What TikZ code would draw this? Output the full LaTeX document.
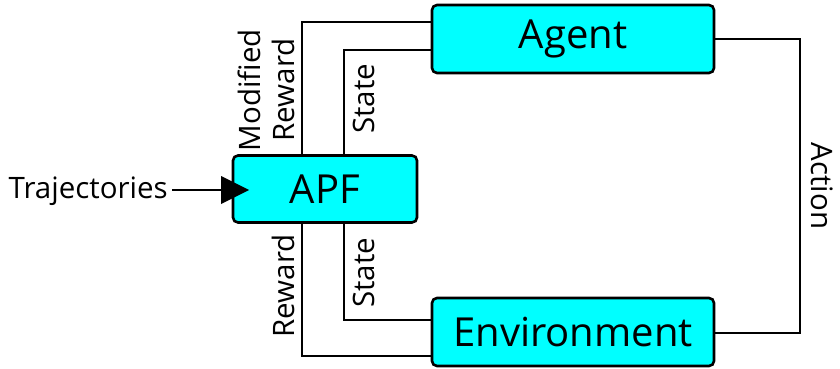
\documentclass[tikz,border=0pt]{standalone}
\usepackage{fontspec}
\setmainfont{Open Sans}
\usetikzlibrary{arrows.meta}
\definecolor{boxcyan}{RGB}{0,255,255}
\begin{document}
\begin{tikzpicture}[x=1pt,y=-1pt,
  blockbox/.style={draw=black,line width=2.6pt,fill=boxcyan,rounded corners=5pt,inner sep=0pt,font=\fontsize{40}{46}\selectfont},
  conn/.style={draw=black,line width=2.6pt},
  lbl/.style={font=\fontsize{29.5}{34}\selectfont,inner sep=0pt,align=center}]
\useasboundingbox (0,0) rectangle (840,369);
\node[blockbox,minimum width=282pt,minimum height=68pt] (agent) at (573,39) {Agent};
\node[blockbox,minimum width=184pt,minimum height=67pt] (apf) at (325,189) {APF};
\node[blockbox,minimum width=282pt,minimum height=68pt] (env) at (573,332) {Environment};
\coordinate (mr) at (302,22);
\coordinate (su) at (344,50);
\coordinate (sl) at (344,320);
\coordinate (rl) at (302,356);
\coordinate (ar) at (800,39);
\coordinate (er) at (800,333);
\draw[conn] (apf.north -| mr) -- (mr) -- (mr -| agent.west);
\draw[conn] (apf.north -| su) -- (su) -- (su -| agent.west);
\draw[conn] (apf.south -| sl) -- (sl) -- (sl -| env.west);
\draw[conn] (apf.south -| rl) -- (rl) -- (rl -| env.west);
\draw[conn] (agent.east) -- (ar) -- (er) -- (er -| env.east);
\node[lbl,anchor=east] (traj) at (168,191) {Trajectories};
\coordinate (tend) at (249,190);
\draw[conn,-{Triangle[length=28pt,width=28pt,line width=0pt]}] (traj.east |- tend) ++(4,0) -- (tend);
\node[lbl,rotate=90] (modrew) at (266,90) {Modified\\Reward};
\node[lbl,rotate=90] (stateu) at (364,99) {State};
\node[lbl,rotate=90] (rewl) at (283,286) {Reward};
\node[lbl,rotate=90] (statel) at (364,273) {State};
\node[lbl,rotate=-90] (action) at (822,186) {Action};
\end{tikzpicture}
\end{document}
